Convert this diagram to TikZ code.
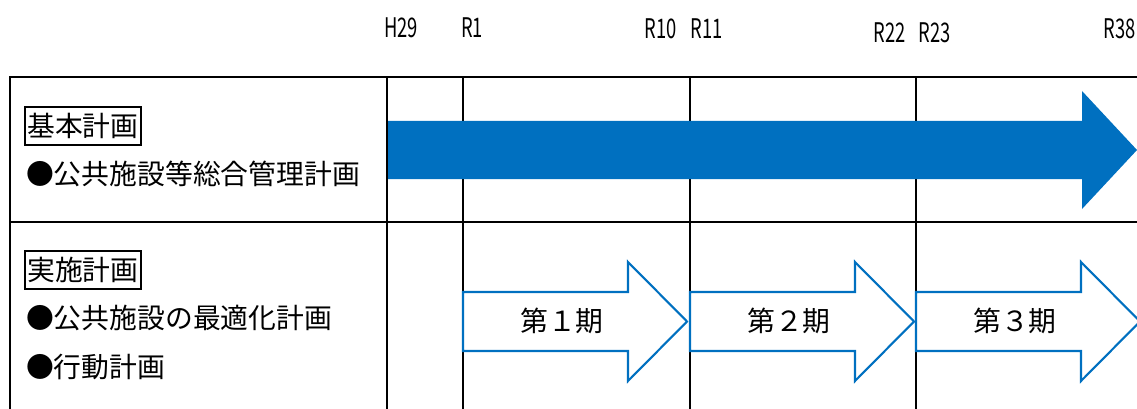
\documentclass[tikz,border=0pt]{standalone}
\usepackage{fontspec}
\newfontfamily\jp{Noto Sans CJK JP}
\newfontfamily\lab[FakeStretch=0.68]{Noto Sans CJK JP}
\definecolor{xblue}{HTML}{0070C0}
\begin{document}
\begin{tikzpicture}[x=1pt,y=-1pt,
  gridline/.style={line width=2.6pt, black},
  solidarrow/.style={fill=xblue, draw=none},
  hollowarrow/.style={draw=xblue, fill=white, line width=2.1pt},
  yr/.style={font=\lab\fontsize{27}{27}\selectfont, inner sep=0pt},
  item/.style={font=\jp\fontsize{27.8}{27.8}\selectfont, anchor=west, inner sep=0pt, text height=23pt, text depth=2pt},
  tag/.style={item, draw, line width=2.2pt, inner xsep=2.2pt, inner ysep=6.5pt},
  period/.style={font=\jp\fontsize{27.8}{27.8}\selectfont, inner sep=0pt, text height=23pt, text depth=2pt}]
\useasboundingbox (0,0) rectangle (1137,409);
% table lines
\draw[gridline] (10,412) -- (10,77) -- (1140,77);
\draw[gridline] (10,222) -- (1140,222);
\foreach \x in {387,463,690,916} \draw[gridline] (\x,77) -- (\x,412);
% solid arrow
\fill[solidarrow] (388,121) -- (1082,121) -- (1082,91) -- (1137,150) -- (1082,209) -- (1082,179) -- (388,179) -- cycle;
% hollow arrows
\foreach \L in {463,690,916}
  \draw[hollowarrow] (\L,292) -- (\L+165,292) -- (\L+165,262) -- (\L+224,321.5) -- (\L+165,381) -- (\L+165,351) -- (\L,351) -- cycle;
% year labels
\node[yr] (h29) at (401,28) {H29};
\node[yr] (r1) at (472,28) {R1};
\node[yr] (r10) at (661,29) {R10};
\node[yr] (r11) at (707,29) {R11};
\node[yr] (r22) at (890,33) {R22};
\node[yr] (r23) at (935,33) {R23};
\node[yr] (r38) at (1120,28.5) {R38};
% left column
\node[tag] (kihon) at (24,126) {基本計画};
\node[item] (kokyo) at (26,174) {●公共施設等総合管理計画};
\node[tag] (jisshi) at (24,270) {実施計画};
\node[item] (saiteki) at (26,318) {●公共施設の最適化計画};
\node[item] (kodo) at (26,367) {●行動計画};
% periods
\node[period] (p1) at (562,321) {第１期};
\node[period] (p2) at (789,321) {第２期};
\node[period] (p3) at (1015,321) {第３期};
\end{tikzpicture}
\end{document}
